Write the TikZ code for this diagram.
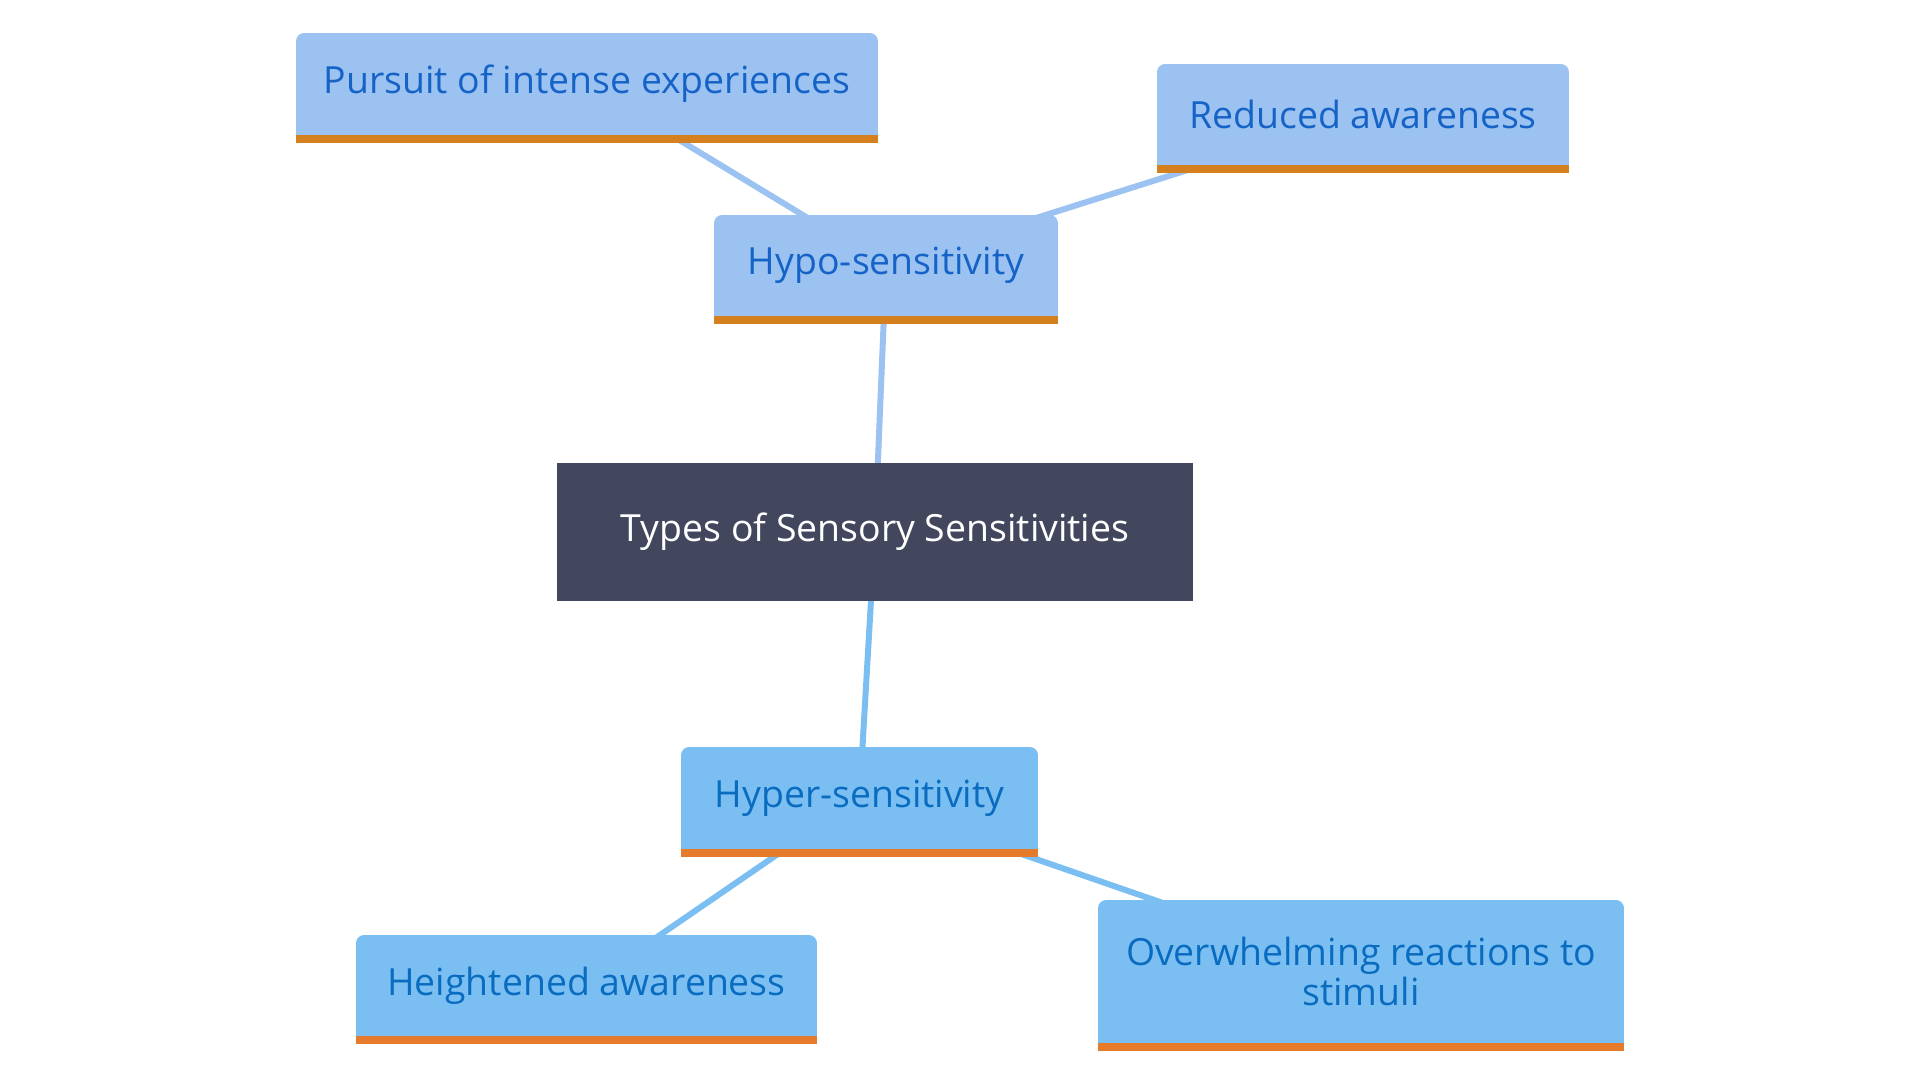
\documentclass[tikz,border=0pt]{standalone}
\usepackage{fontspec}
\setmainfont{Open Sans}
\usetikzlibrary{backgrounds}

\definecolor{hypofill}{HTML}{9BC2F0}
\definecolor{hypotext}{HTML}{1663C7}
\definecolor{hypobar}{HTML}{D5801F}
\definecolor{hyperfill}{HTML}{7BBFF2}
\definecolor{hypertext}{HTML}{096CC0}
\definecolor{hyperbar}{HTML}{E67C2B}
\definecolor{rootfill}{HTML}{42475E}

\begin{document}
\begin{tikzpicture}[x=0.02cm,y=-0.02cm,
    box/.style={rectangle,inner sep=0pt,align=center,
        font=\fontsize{21.3}{23.2}\selectfont},
    hypo/.style={box,fill=hypofill,text=hypotext,rounded corners=0.16cm},
    hyper/.style={box,fill=hyperfill,text=hypertext,rounded corners=0.16cm},
    root/.style={box,fill=rootfill,text=white},
    hypolink/.style={draw=hypofill,line width=0.12cm},
    hyperlink/.style={draw=hyperfill,line width=0.12cm}]

    \useasboundingbox (0,0) rectangle (1920,1080);

    \node[root,minimum width=12.72cm,minimum height=2.76cm] (types) at (875,532) {Types of Sensory Sensitivities};

    \node[hypo,minimum width=6.88cm,minimum height=2.02cm] (hyposens) at (886,265.5) {Hypo-sensitivity};
    \node[hypo,minimum width=11.64cm,minimum height=2.04cm] (pursuit) at (587,84) {Pursuit of intense experiences};
    \node[hypo,minimum width=8.24cm,minimum height=2.02cm] (reduced) at (1363,114.5) {Reduced awareness};

    \node[hyper,minimum width=7.14cm,minimum height=2.04cm] (hypersens) at (859.5,798) {Hyper-sensitivity};
    \node[hyper,minimum width=9.22cm,minimum height=2.02cm] (heightened) at (586.5,985.5) {Heightened awareness};
    \node[hyper,minimum width=10.52cm,minimum height=2.86cm] (overwhelm) at (1361,971.5) {Overwhelming reactions to\\stimuli};

    \foreach \n/\f/\b in {pursuit/hypofill/hypobar,reduced/hypofill/hypobar,hyposens/hypofill/hypobar,
        hypersens/hyperfill/hyperbar,heightened/hyperfill/hyperbar,overwhelm/hyperfill/hyperbar}{
        \fill[\f] (\n.south west) rectangle ([yshift=0.2cm]\n.south east);
        \fill[\b] (\n.south west) rectangle ([yshift=-0.16cm]\n.south east);
    }

    \begin{scope}[on background layer]
    \draw[hypolink] (types.center) -- (hyposens.center);
    \draw[hypolink] (hyposens.center) -- (pursuit.center);
    \draw[hypolink] (hyposens.center) -- (reduced.center);
    \draw[hyperlink] (types.center) -- (hypersens.center);
    \draw[hyperlink] (hypersens.center) -- (heightened.center);
    \draw[hyperlink] (hypersens.center) -- (overwhelm.center);
    \end{scope}

\end{tikzpicture}
\end{document}
